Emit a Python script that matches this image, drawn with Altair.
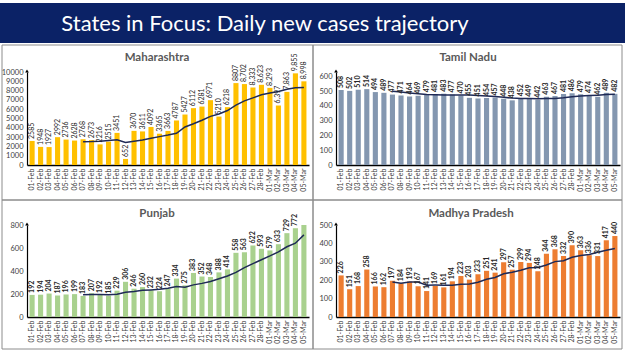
import altair as alt
import pandas as pd

FONT = "Lato"
LINE_COLOR = "#1f2a56"

dates = ["01-Feb", "02-Feb", "03-Feb", "04-Feb", "05-Feb", "06-Feb", "07-Feb",
         "08-Feb", "09-Feb", "10-Feb", "11-Feb", "12-Feb", "13-Feb", "14-Feb",
         "15-Feb", "16-Feb", "17-Feb", "18-Feb", "19-Feb", "20-Feb", "21-Feb",
         "22-Feb", "23-Feb", "24-Feb", "25-Feb", "26-Feb", "27-Feb", "28-Feb",
         "01-Mar", "02-Mar", "03-Mar", "04-Mar", "05-Mar"]

maharashtra = [2585, 1948, 1927, 2992, 2736, 2628, 2768, 2673, 2216, 2515, 3451,
               652, 3670, 3611, 4092, 3365, 3663, 4787, 5427, 6112, 6281, 6971,
               5210, 6218, 8807, 8702, 8333, 8623, 8293, 6397, 7863, 9855, 8998]
tamil_nadu = [508, 502, 510, 514, 494, 489, 477, 471, 464, 469, 479, 481, 483,
              477, 470, 455, 451, 454, 457, 448, 438, 452, 449, 442, 463, 467,
              481, 486, 479, 474, 462, 489, 482]
punjab = [192, 194, 204, 187, 196, 199, 183, 207, 192, 185, 229, 306, 246, 260,
          232, 224, 247, 334, 275, 383, 352, 348, 388, 414, 558, 563, 622, 593,
          579, 633, 729, 772, 1071]
madhya_pradesh = [226, 151, 168, 258, 166, 162, 197, 184, 193, 167, 141, 169,
                  161, 194, 223, 203, 233, 251, 241, 297, 257, 299, 294, 248,
                  344, 368, 332, 390, 363, 336, 331, 417, 440]

# Maharashtra labels switch to thousands separators from 26-Feb on
mh_labels = [f"{v:,}" if i >= 25 else str(v) for i, v in enumerate(maharashtra)]

one = pd.DataFrame({"k": [0]})


def panel(name, values, labels, color, dom_max, ticks, w, h, frame, title_xy,
          label_bold=False):
    df = pd.DataFrame({"date": dates, "v": values,
                       "i": list(range(len(values))), "lab": labels})
    base = alt.Chart(df)
    x = alt.X("date:N", sort=dates, title=None,
              scale=alt.Scale(paddingInner=0.4, paddingOuter=0.3),
              axis=alt.Axis(labelAngle=270, labelFontSize=7, labelColor="#404040",
                            labelPadding=3, ticks=False, domainColor="#000000",
                            domainWidth=1.5, labelFont=FONT, grid=False))
    yaxis = alt.Axis(values=ticks, format="d", labelFontSize=7.5, labelColor="#404040",
                     labelPadding=4, ticks=False, grid=False, domainColor="#000000",
                     domainWidth=1.2, labelFont=FONT)
    yscale = alt.Scale(domain=[0, dom_max], nice=False, clamp=True)
    y = alt.Y("v:Q", title=None, scale=yscale, axis=yaxis)
    bars = base.mark_bar(color=color).encode(x=x, y=y)
    txt = base.transform_filter(f"datum.v <= {dom_max}").mark_text(
        angle=270, align="left", baseline="middle", dx=2, fontSize=7, font=FONT,
        fontWeight="bold" if label_bold else "normal", color="#262626"
    ).encode(x=x, y=y, text="lab:N")
    line = base.transform_window(
        ma="mean(v)", frame=[-6, 0], sort=[alt.SortField("i")]
    ).transform_filter("datum.i >= 6").mark_line(
        color=LINE_COLOR, strokeWidth=1.5
    ).encode(x=x, y=alt.Y("ma:Q", title=None, scale=yscale, axis=yaxis))
    fx0, fx1, fy0, fy1 = frame
    box = alt.Chart(one).mark_rect(fillOpacity=0, stroke="#8c8c8c", strokeWidth=1).encode(
        x=alt.value(fx0), x2=alt.value(fx1), y=alt.value(fy0), y2=alt.value(fy1))
    ttl = alt.Chart(one).mark_text(fontSize=11.5, fontWeight="bold", color="#595959",
                                   font=FONT, baseline="middle").encode(
        x=alt.value(title_xy[0]), y=alt.value(title_xy[1]), text=alt.value(name))
    arrow = alt.Chart(one).mark_point(shape="triangle-up", filled=True, size=14,
                                      color="#000000", opacity=1).encode(
        x=alt.value(0), y=alt.value(-1))
    return alt.layer(box, bars, line, txt, arrow, ttl).properties(width=w, height=h)


mh = panel("Maharashtra", maharashtra, [str(s) for s in mh_labels], "#FFC000", 10000,
           list(range(0, 10001, 1000)), 282, 93, (-25, 286, -27, 128), (130, -14))
tn = panel("Tamil Nadu", tamil_nadu, [str(v) for v in tamil_nadu], "#8497B0", 630,
           list(range(0, 601, 100)), 284, 93, (-23, 286, -27, 128), (132, -14),
           label_bold=True)
pb = panel("Punjab", punjab, [str(v) for v in punjab], "#A9D18E", 800,
           list(range(0, 801, 200)), 282, 92, (-25, 286, -25, 124), (130, -11),
           label_bold=True)
mp = panel("Madhya Pradesh", madhya_pradesh, [str(v) for v in madhya_pradesh],
           "#ED7D31", 500, list(range(0, 501, 100)), 284, 92, (-23, 286, -25, 124),
           (135, -11), label_bold=True)

band = alt.Chart(one).mark_rect(color="#0b2266").encode(
    x=alt.value(-27), x2=alt.value(598), y=alt.value(0), y2=alt.value(40))
head = alt.Chart(one).mark_text(fontSize=22, color="white", font=FONT,
                                baseline="alphabetic").encode(
    x=alt.value(238), y=alt.value(28),
    text=alt.value("States in Focus: Daily new cases trajectory"))
title_chart = alt.layer(band, head).properties(width=282, height=9)
blank = alt.Chart(one).mark_point(opacity=0).encode(
    x=alt.value(0), y=alt.value(0)).properties(width=284, height=9)

chart = alt.concat(
    title_chart, blank, mh, tn, pb, mp,
    columns=2, spacing={"row": 60, "column": 27}, bounds="flush"
).properties(padding=0, background="white").configure_view(strokeWidth=0)

chart.save("out.html", embed_options={"renderer": "svg", "actions": False})
